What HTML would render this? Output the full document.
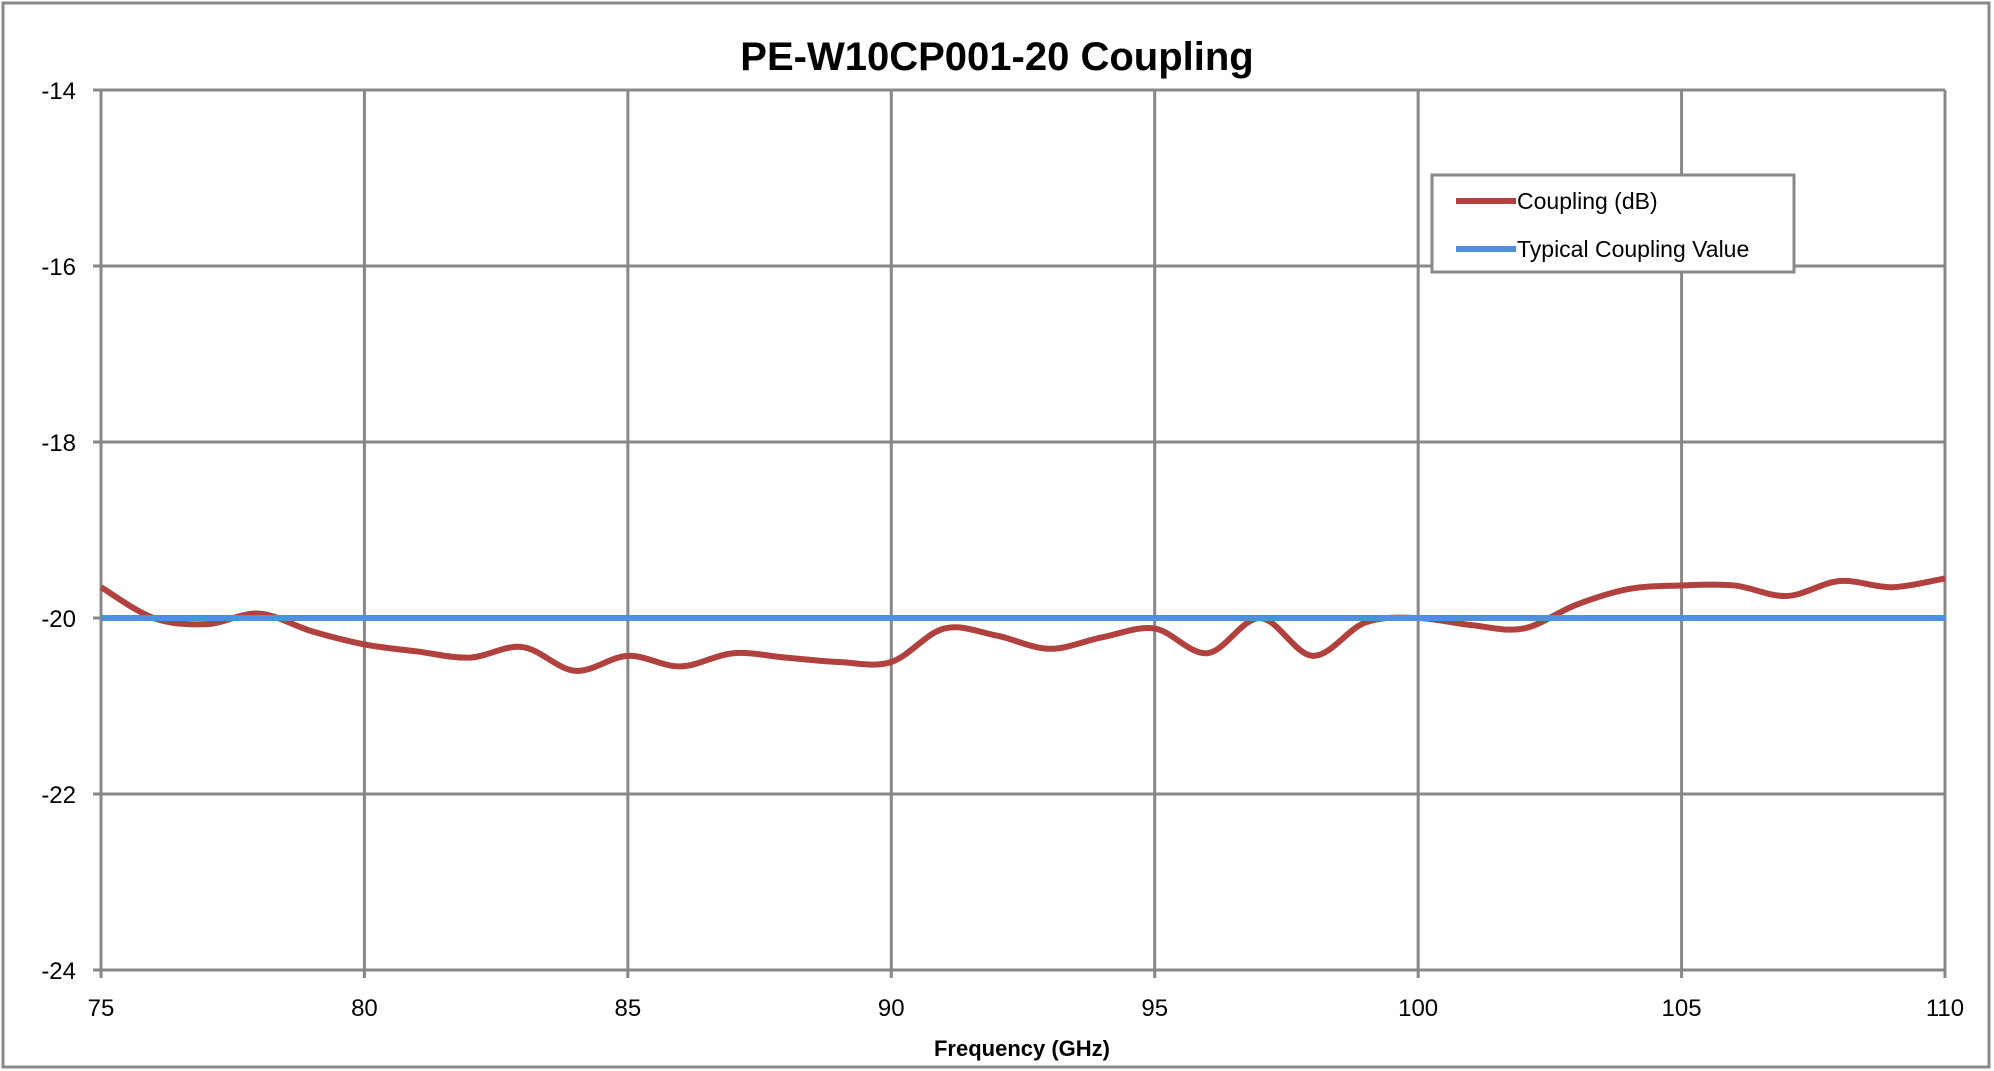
<!DOCTYPE html>
<html><head><meta charset="utf-8"><style>
body{margin:0;background:#fff;}
svg{display:block;font-family:"Liberation Sans",sans-serif;}
</style></head><body>
<svg id="c" width="1994" height="1071">
<rect x="3" y="3" width="1986" height="1064" fill="#fff" stroke="#888" stroke-width="3"/>
<text x="997" y="70" text-anchor="middle" font-size="40" font-weight="bold">PE-W10CP001-20 Coupling</text>
<g id="grid"></g><g id="series"></g>
<text x="1022" y="1056" text-anchor="middle" font-size="22" font-weight="bold">Frequency (GHz)</text>
<g>
<rect x="1432" y="175" width="362" height="97" fill="#fff" stroke="#888" stroke-width="3"/>
<line x1="1456" y1="201" x2="1516" y2="201" stroke="#b0413e" stroke-width="6"/>
<text x="1517" y="209" font-size="23">Coupling (dB)</text>
<line x1="1456" y1="249" x2="1516" y2="249" stroke="#4f8fdc" stroke-width="6"/>
<text x="1517" y="257" font-size="23">Typical Coupling Value</text>
</g>
</svg>
<script>
const freqs=[75,76,77,78,79,80,81,82,83,84,85,86,87,88,89,90,91,92,93,94,95,96,97,98,99,100,101,102,103,104,105,106,107,108,109,110];
const coupling=[-19.65,-20.0,-20.07,-19.95,-20.15,-20.3,-20.38,-20.45,-20.33,-20.6,-20.43,-20.55,-20.4,-20.45,-20.5,-20.5,-20.12,-20.2,-20.35,-20.22,-20.12,-20.4,-20.0,-20.43,-20.05,-20.0,-20.08,-20.12,-19.85,-19.67,-19.63,-19.63,-19.75,-19.58,-19.65,-19.55];
const typical=-20;
const xTicks=[75,80,85,90,95,100,105,110];
const yTicks=[-14,-16,-18,-20,-22,-24];
const L=101,R=1945,T=90,B=970,xmin=75,xmax=110,ymin=-24,ymax=-14;
const NS='http://www.w3.org/2000/svg';
const X=v=>L+(v-xmin)/(xmax-xmin)*(R-L);
const Y=v=>B-(v-ymin)/(ymax-ymin)*(B-T);
function mk(t,a,p){const e=document.createElementNS(NS,t);for(const k in a)e.setAttribute(k,a[k]);p.appendChild(e);return e;}
const g=document.getElementById('grid'),s=document.getElementById('series');
yTicks.forEach(v=>{
 const l=mk('line',{x1:L-8,x2:R,y1:Y(v),y2:Y(v),stroke:'#888','stroke-width':3},g);
 
 
 const t=mk('text',{x:L-25,y:Y(v)+9,'text-anchor':'end','font-size':24},g);t.textContent=v;
 
 
});
xTicks.forEach(v=>{
 const l=mk('line',{x1:X(v),x2:X(v),y1:T,y2:B+8,stroke:'#888','stroke-width':3},g);
 
 
 const t=mk('text',{x:X(v),y:B+46,'text-anchor':'middle','font-size':24},g);t.textContent=v;
 
 
});
const pts=freqs.map((f,i)=>[X(f),Y(coupling[i])]);
let d='M'+pts[0][0]+','+pts[0][1];
for(let i=0;i<pts.length-1;i++){
 const p0=pts[Math.max(0,i-1)],p1=pts[i],p2=pts[i+1],p3=pts[Math.min(pts.length-1,i+2)];
 d+=` C${p1[0]+(p2[0]-p0[0])/6},${p1[1]+(p2[1]-p0[1])/6} ${p2[0]-(p3[0]-p1[0])/6},${p2[1]-(p3[1]-p1[1])/6} ${p2[0]},${p2[1]}`;
}
const c=mk('path',{d:d,fill:'none',stroke:'#b0413e','stroke-width':6,'stroke-linejoin':'round'},s);


const ty=mk('line',{x1:X(xmin),x2:X(xmax),y1:Y(typical),y2:Y(typical),stroke:'#4f8fdc','stroke-width':6},s);


</script>
</body></html>
